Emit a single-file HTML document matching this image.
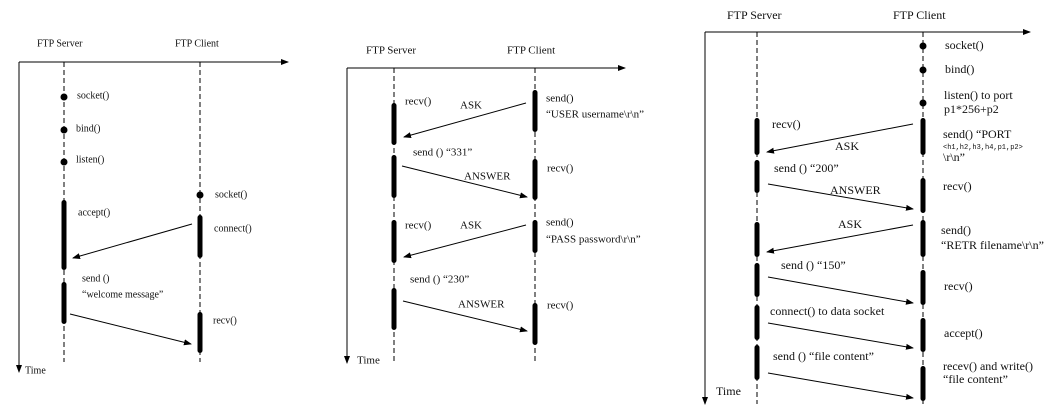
<!DOCTYPE html>
<html><head><meta charset="utf-8"><style>
html,body{margin:0;padding:0;background:#fff;width:1057px;height:408px;overflow:hidden}
svg text{font-family:"Liberation Serif",serif;font-size:11px;fill:#111;dominant-baseline:middle}
.p1 text{font-size:10px}
.p3 text{font-size:12px}
.p3 text.m{font-family:"Liberation Mono",monospace;font-size:7px}
</style></head><body>
<svg width="1057" height="408" viewBox="0 0 1057 408" xmlns="http://www.w3.org/2000/svg">
<defs>
<marker id="a" markerWidth="8" markerHeight="8" refX="7" refY="4" orient="auto" markerUnits="userSpaceOnUse"><path d="M0,1 L8,4 L0,7 Z" fill="#000"/></marker>
</defs>
<g stroke="#000" stroke-width="1" fill="none">
<path d="M19,62 H288" marker-end="url(#a)"/><path d="M19,62 V372" marker-end="url(#a)"/>
<path d="M64,62 V362 M200,62 V362" stroke-dasharray="5,3"/>
<path d="M192,224 L73,258" marker-end="url(#a)"/><path d="M70,314 L191,344" marker-end="url(#a)"/>
<path d="M347,68 H625" marker-end="url(#a)"/><path d="M347,68 V363" marker-end="url(#a)"/>
<path d="M394,68 V362 M535,68 V362" stroke-dasharray="5,3"/>
<path d="M526,103 L404,137" marker-end="url(#a)"/><path d="M402,166 L527,197" marker-end="url(#a)"/>
<path d="M526,225 L404,257" marker-end="url(#a)"/><path d="M403,301 L527,331" marker-end="url(#a)"/>
<path d="M705,32 H1030" marker-end="url(#a)"/><path d="M705,32 V404" marker-end="url(#a)"/>
<path d="M757,32 V404 M923,32 V404" stroke-dasharray="5,3"/>
<path d="M913,124 L767,152" marker-end="url(#a)"/><path d="M768,184 L913,209" marker-end="url(#a)"/>
<path d="M913,225 L767,252" marker-end="url(#a)"/><path d="M768,277 L913,303" marker-end="url(#a)"/>
<path d="M768,323 L913,348" marker-end="url(#a)"/><path d="M768,373 L913,398" marker-end="url(#a)"/>
</g>
<g fill="#000">
<circle cx="64" cy="97" r="3.5"/><circle cx="64" cy="130" r="3.5"/><circle cx="64" cy="162" r="3.5"/><circle cx="200" cy="195" r="3.5"/>
<rect x="61.5" y="200" width="5" height="70" rx="2.5"/><rect x="197.5" y="215" width="5" height="43" rx="2.5"/>
<rect x="61.5" y="282" width="5" height="42" rx="2.5"/><rect x="197.5" y="312" width="5" height="41" rx="2.5"/>
<rect x="391.5" y="103" width="5" height="42" rx="2.5"/><rect x="391.5" y="155" width="5" height="43" rx="2.5"/>
<rect x="391.5" y="220" width="5" height="43" rx="2.5"/><rect x="391.5" y="288" width="5" height="42" rx="2.5"/>
<rect x="532.5" y="90" width="5" height="42" rx="2.5"/><rect x="532.5" y="159" width="5" height="41" rx="2.5"/>
<rect x="532.5" y="220" width="5" height="33" rx="2.5"/><rect x="532.5" y="303" width="5" height="42" rx="2.5"/>
<circle cx="923" cy="46" r="3.5"/><circle cx="923" cy="70" r="3.5"/><circle cx="923" cy="103" r="3.5"/>
<rect x="754.5" y="118" width="5" height="37" rx="2.5"/><rect x="920.5" y="118" width="5" height="37" rx="2.5"/>
<rect x="754.5" y="160" width="5" height="33" rx="2.5"/><rect x="920.5" y="178" width="5" height="35" rx="2.5"/>
<rect x="754.5" y="222" width="5" height="35" rx="2.5"/><rect x="920.5" y="220" width="5" height="37" rx="2.5"/>
<rect x="754.5" y="263" width="5" height="34" rx="2.5"/><rect x="920.5" y="270" width="5" height="35" rx="2.5"/>
<rect x="754.5" y="305" width="5" height="35" rx="2.5"/><rect x="920.5" y="318" width="5" height="34" rx="2.5"/>
<rect x="754.5" y="345" width="5" height="35" rx="2.5"/><rect x="920.5" y="366" width="5" height="35" rx="2.5"/>
</g>
<g class="p1">
<text x="37" y="44">FTP Server</text><text x="175" y="44">FTP Client</text>
<text x="77" y="96">socket()</text><text x="76" y="129">bind()</text><text x="76" y="160">listen()</text>
<text x="215" y="195">socket()</text><text x="78" y="213">accept()</text><text x="214" y="229">connect()</text>
<text x="82" y="279">send ()</text><text x="82" y="295">“welcome message”</text><text x="213" y="321">recv()</text>
<text x="25" y="371">Time</text>
</g>
<g>
<text x="366" y="51">FTP Server</text><text x="507" y="51">FTP Client</text>
<text x="405" y="102">recv()</text><text x="460" y="106">ASK</text>
<text x="546" y="99">send()</text><text x="546" y="115">“USER username\r\n”</text>
<text x="413" y="153">send () “331”</text><text x="464" y="177">ANSWER</text><text x="547" y="169">recv()</text>
<text x="405" y="226">recv()</text><text x="460" y="226">ASK</text>
<text x="546" y="223">send()</text><text x="546" y="240">“PASS password\r\n”</text>
<text x="410" y="280">send () “230”</text><text x="458" y="305">ANSWER</text><text x="547" y="306">recv()</text>
<text x="357" y="361">Time</text>
</g>
<g class="p3">
<text x="727" y="16">FTP Server</text><text x="893" y="16">FTP Client</text>
<text x="945" y="46">socket()</text><text x="945" y="70">bind()</text>
<text x="944" y="96">listen() to port</text><text x="944" y="110">p1*256+p2</text>
<text x="772" y="125">recv()</text><text x="835" y="147">ASK</text>
<text x="943" y="135">send() “PORT</text><text class="m" x="943" y="147">&lt;h1,h2,h3,h4,p1,p2&gt;</text><text x="943" y="158">\r\n”</text>
<text x="774" y="169">send () “200”</text><text x="830" y="191">ANSWER</text><text x="943" y="187">recv()</text>
<text x="838" y="225">ASK</text><text x="941" y="231">send()</text><text x="941" y="246">“RETR filename\r\n”</text>
<text x="781" y="266">send () “150”</text><text x="944" y="287">recv()</text>
<text x="770" y="312">connect() to data socket</text><text x="944" y="334">accept()</text>
<text x="773" y="357">send () “file content”</text><text x="943" y="367">recev() and write()</text><text x="943" y="380">“file content”</text>
<text x="716" y="392">Time</text>
</g>
</svg>
</body></html>
